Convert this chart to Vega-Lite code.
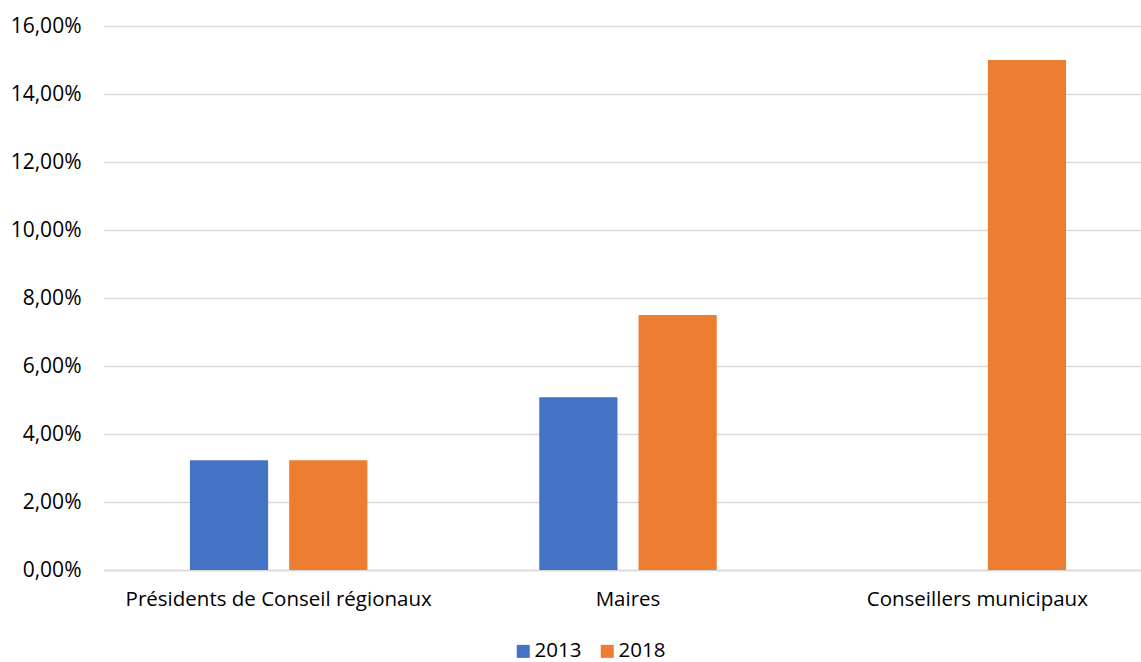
{
  "$schema": "https://vega.github.io/schema/vega-lite/v6.json",
  "width": 1048,
  "height": 544,
  "autosize": {"type": "none"},
  "padding": {"left": 104, "top": 26, "right": 0, "bottom": 92},
  "background": "white",
  "config": {
    "locale": {"number": {"decimal": ",", "thousands": " ", "grouping": [3], "currency": ["", " €"]}},
    "view": {"stroke": null},
    "font": "Open Sans",
    "axis": {"labelFont": "Open Sans", "labelColor": "#000000", "ticks": false, "title": null, "labelLimit": 0}
  },
  "data": {
    "values": [
      {"categorie": "Présidents de Conseil régionaux", "annee": "2013", "part": 0.0323},
      {"categorie": "Présidents de Conseil régionaux", "annee": "2018", "part": 0.0323},
      {"categorie": "Maires", "annee": "2013", "part": 0.0508},
      {"categorie": "Maires", "annee": "2018", "part": 0.075},
      {"categorie": "Conseillers municipaux", "annee": "2018", "part": 0.15}
    ]
  },
  "mark": {"type": "bar"},
  "encoding": {
    "x": {
      "field": "categorie",
      "type": "nominal",
      "sort": null,
      "scale": {"paddingInner": 0.492, "paddingOuter": 0.246},
      "axis": {
        "labelAngle": 0,
        "labelFontSize": 20.5,
        "labelPadding": 19,
        "domain": true,
        "domainColor": "#d9d9d9",
        "domainWidth": 1.5,
        "grid": false
      }
    },
    "xOffset": {
      "field": "annee",
      "type": "nominal",
      "scale": {"paddingInner": 0.212, "paddingOuter": 0}
    },
    "y": {
      "field": "part",
      "type": "quantitative",
      "scale": {"domain": [0, 0.16], "nice": false},
      "axis": {
        "values": [0, 0.02, 0.04, 0.06, 0.08, 0.1, 0.12, 0.14, 0.16],
        "format": ".2%",
        "labelFontSize": 21,
        "domain": false,
        "grid": true,
        "gridColor": "#d9d9d9",
        "gridWidth": 1.5,
        "labelPadding": 23
      }
    },
    "color": {
      "field": "annee",
      "type": "nominal",
      "scale": {"domain": ["2013", "2018"], "range": ["#4472C4", "#ED7D31"]},
      "legend": {
        "title": null,
        "orient": "none",
        "direction": "horizontal",
        "legendX": 409,
        "legendY": 615,
        "symbolType": "square",
        "symbolSize": 169,
        "symbolStrokeWidth": 0,
        "symbolOpacity": 1,
        "labelFont": "Open Sans",
        "labelFontSize": 20.5,
        "labelColor": "#000000",
        "labelOffset": 1,
        "columnPadding": 15,
        "padding": 0
      }
    }
  }
}
